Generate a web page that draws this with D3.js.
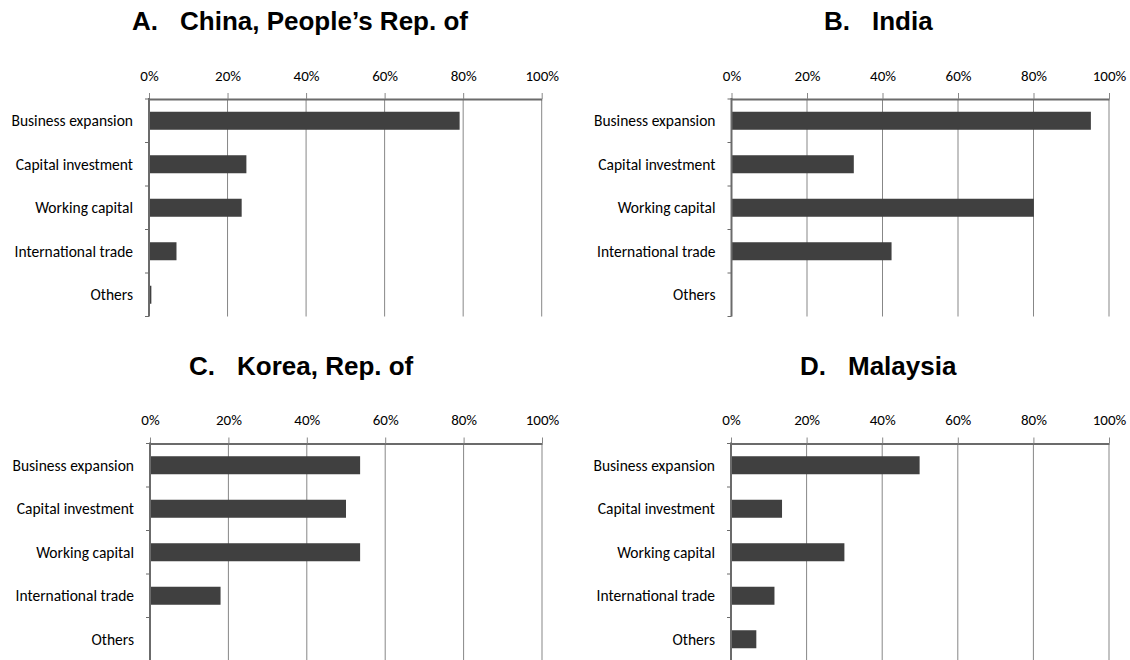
<!DOCTYPE html>
<html>
<head>
<meta charset="utf-8">
<script src="https://cdn.jsdelivr.net/npm/d3@7"></script>
<style>
  body { margin: 0; background: #fff; }
  svg { display: block; }
</style>
</head>
<body>
<div id="chart"></div>
<script>
// data (share of firms, %)
var categories = ["Business expansion", "Capital investment", "Working capital", "International trade", "Others"];
var panelLetters = ["A.", "B.", "C.", "D."];
var panelNames = ["China, People\u2019s Rep. of", "India", "Korea, Rep. of", "Malaysia"];
var chinaValues = [79.1, 24.8, 23.6, 7.0, 0.6];
var indiaValues = [95.2, 32.4, 80.1, 42.4, 0];
var koreaValues = [53.6, 50.0, 53.6, 18.0, 0];
var malaysiaValues = [49.9, 13.5, 30.0, 11.5, 6.7];
var xTicks = [0, 20, 40, 60, 80, 100];

var W = 1130, H = 660;
var labelFont = "Carlito, Calibri, Lato, sans-serif";

// panel frames
var panels = [
  {x0: 149, x1: 541.7, y0: 99, tx: 132, ty: 30, values: chinaValues},
  {x0: 731.5, x1: 1109, y0: 99, tx: 824, ty: 30, values: indiaValues},
  {x0: 150, x1: 542, y0: 443.5, tx: 189, ty: 375, values: koreaValues},
  {x0: 731, x1: 1109, y0: 443.5, tx: 800, ty: 375, values: malaysiaValues}
];
var plotH = 217.5;

var svg = d3.select("#chart").append("svg")
    .attr("width", W)
    .attr("height", H);

panels.forEach(function (p, i) {
  var x = d3.scaleLinear().domain([0, 100]).range([p.x0, p.x1]);
  var y = d3.scaleBand().domain(categories)
      .range([p.y0, p.y0 + plotH])
      .paddingInner(0.586)
      .paddingOuter(0.293);
  var step = y.step();
  var rows = categories.map(function (c, j) { return {cat: c, value: p.values[j]}; });

  var g = svg.append("g");

  // title
  var title = g.append("text")
      .attr("x", p.tx)
      .attr("y", p.ty)
      .attr("font-family", "Liberation Sans, Arial, sans-serif")
      .attr("font-weight", "bold")
      .attr("font-size", 26)
      .attr("fill", "#000");
  title.append("tspan").text(panelLetters[i]);
  title.append("tspan").attr("x", p.tx + 48).text(panelNames[i]);

  // vertical gridlines
  g.selectAll("line.grid")
    .data(xTicks.slice(1))
    .enter().append("line")
      .attr("class", "grid")
      .attr("x1", function (d) { return x(d); })
      .attr("x2", function (d) { return x(d); })
      .attr("y1", p.y0)
      .attr("y2", p.y0 + plotH)
      .attr("stroke", "#878787")
      .attr("stroke-width", 1);

  // bars
  g.selectAll("rect.bar")
    .data(rows)
    .enter().append("rect")
      .attr("class", "bar")
      .attr("x", x(0))
      .attr("y", function (d) { return y(d.cat); })
      .attr("width", function (d) { return x(d.value) - x(0); })
      .attr("height", y.bandwidth())
      .attr("fill", "#404040");

  // top axis
  var xAxis = d3.axisTop(x)
      .tickValues(xTicks)
      .tickFormat(function (d) { return d + "%"; })
      .tickSizeInner(6)
      .tickSizeOuter(0);
  var ax = g.append("g")
      .attr("transform", "translate(0," + p.y0 + ")")
      .call(xAxis);
  ax.select(".domain").attr("stroke", "#6b6b6b").attr("stroke-width", 2);
  ax.selectAll(".tick line").attr("stroke", "#878787");
  ax.selectAll(".tick text")
      .attr("y", -18.5)
      .attr("dy", 0)
      .attr("font-family", labelFont)
      .attr("font-size", 15)
      .attr("fill", "#000");

  // left axis with ticks on category boundaries
  g.append("line")
      .attr("x1", x(0)).attr("x2", x(0))
      .attr("y1", p.y0 - 1).attr("y2", p.y0 + plotH)
      .attr("stroke", "#6b6b6b")
      .attr("stroke-width", 2);
  g.selectAll("line.ytick")
    .data(d3.range(categories.length + 1))
    .enter().append("line")
      .attr("class", "ytick")
      .attr("x1", x(0) - 4).attr("x2", x(0))
      .attr("y1", function (k) { return p.y0 + k * step; })
      .attr("y2", function (k) { return p.y0 + k * step; })
      .attr("stroke", "#6b6b6b")
      .attr("stroke-width", 1);

  g.selectAll("text.cat")
    .data(categories)
    .enter().append("text")
      .attr("class", "cat")
      .attr("x", x(0) - 16)
      .attr("y", function (d) { return y(d) + y.bandwidth() / 2; })
      .attr("dy", "0.35em")
      .attr("text-anchor", "end")
      .attr("font-family", labelFont)
      .attr("font-size", 15.5)
      .attr("fill", "#000")
      .text(function (d) { return d; });
});
</script>
</body>
</html>
